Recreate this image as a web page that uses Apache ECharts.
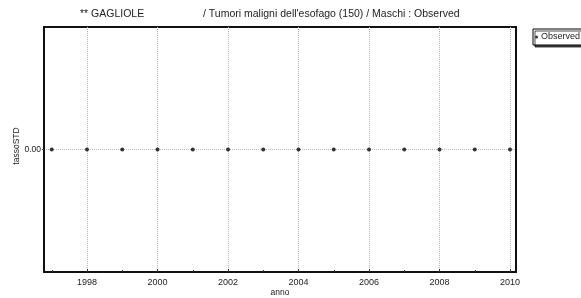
<!DOCTYPE html>
<html><head><meta charset="utf-8">
<script src="https://cdn.jsdelivr.net/npm/echarts@6/dist/echarts.min.js"></script>
<style>html,body{margin:0;padding:0;background:#fff}#c{width:581px;height:298px}</style>
</head><body><div id="c"></div>
<script>
var years = [1997,1998,1999,2000,2001,2002,2003,2004,2005,2006,2007,2008,2009,2010];
var observed = [0,0,0,0,0,0,0,0,0,0,0,0,0,0];
var xTickLabels = [1998,2000,2002,2004,2006,2008,2010];
var xMinorTicks = [1997,1999,2001,2003,2005,2007,2009];
var yTickLabels = [0];
var titleLeft = '** GAGLIOLE';
var titleRight = "/ Tumori maligni dell'esofago (150) / Maschi : Observed";
var seriesName = 'Observed';
var xName = 'anno';
var yName = 'tassoSTD';

var chart = echarts.init(document.getElementById('c'));
var font = 'Liberation Sans, Arial, sans-serif';
chart.setOption({
  animation: false,
  backgroundColor: '#fff',
  textStyle: {fontFamily: font},
  title: [
    {text: titleLeft, left: 80, top: 9, padding: 0, textStyle: {fontSize: 10.5, fontWeight: 'normal', color: '#222', fontFamily: font}},
    {text: titleRight, left: 203, top: 9, padding: 0, textStyle: {fontSize: 10.5, fontWeight: 'normal', color: '#222', fontFamily: font}}
  ],
  legend: {
    left: 533, top: 29, orient: 'vertical',
    data: [seriesName],
    backgroundColor: '#fff', borderColor: '#000', borderWidth: 1,
    padding: [2, 10, 2, 2], itemWidth: 3, itemHeight: 3, itemGap: 2,
    shadowColor: 'rgba(0,0,0,0.7)', shadowOffsetX: 2, shadowOffsetY: 2, shadowBlur: 0,
    icon: 'circle',
    textStyle: {fontSize: 9, color: '#222', fontFamily: font, padding: [1,0,1,-2], lineHeight: 10}
  },
  grid: {left: 44, right: 65, top: 27, bottom: 26, outerBoundsMode: 'none', containLabel: false, show: true, borderColor: '#111', borderWidth: 2, backgroundColor: 'transparent'},
  xAxis: [{
    type: 'value', min: 1996.78, max: 2010.17,
    axisLine: {show: true, onZero: false, lineStyle: {color: '#111', width: 2}},
    axisTick: {show: true, inside: true, length: 3, customValues: xTickLabels, lineStyle: {color: '#333'}},
    axisLabel: {customValues: xTickLabels, fontSize: 9, color: '#222', margin: 6, fontFamily: font,
      formatter: function(v){ return String(Math.round(v)); }},
    splitLine: {show: true, lineStyle: {color: '#bbb', type: [1, 1], width: 1}}
  }, {
    type: 'value', min: 1996.78, max: 2010.17, position: 'bottom', gridIndex: 0,
    axisLine: {show: false, onZero: false},
    axisTick: {show: true, inside: true, length: 2, customValues: xMinorTicks, lineStyle: {color: '#333'}},
    axisLabel: {show: false},
    splitLine: {show: false}
  }],
  yAxis: {
    type: 'value', min: -1, max: 1,
    axisLine: {show: true, onZero: false, lineStyle: {color: '#111', width: 2}},
    axisTick: {show: true, length: 2, customValues: yTickLabels, lineStyle: {color: '#333'}},
    axisLabel: {customValues: yTickLabels, fontSize: 8.5, color: '#222', margin: 3, fontFamily: font,
      formatter: function(v){ return v.toFixed(2); }},
    splitLine: {show: true, lineStyle: {color: '#bbb', type: [1, 1], width: 1}}
  },
  graphic: [{
    type: 'text', x: 17, y: 146, rotation: Math.PI/2,
    style: {text: yName, fill: '#222', font: '8.5px ' + font, textAlign: 'center', textVerticalAlign: 'middle'}
  }, {
    type: 'text', x: 280, y: 293,
    style: {text: xName, fill: '#222', font: '8.5px ' + font, textAlign: 'center', textVerticalAlign: 'middle'}
  }],
  series: [{
    name: seriesName, type: 'line', xAxisIndex: 0,
    data: years.map(function(y, i){ return [y, observed[i]]; }),
    lineStyle: {width: 0, opacity: 0},
    symbol: 'circle', symbolSize: 4,
    itemStyle: {color: '#333'}
  }]
});
</script></body></html>
